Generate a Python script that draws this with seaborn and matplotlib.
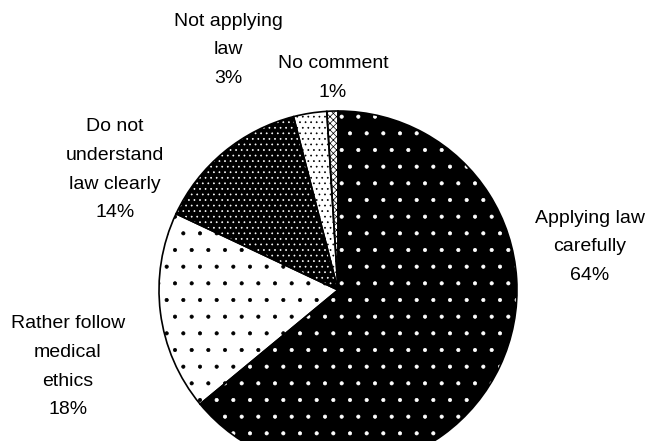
import seaborn as sns
import numpy as np
import matplotlib.pyplot as plt

# answers and shares (percent)
answers = ['Applying law\ncarefully', 'Rather follow\nmedical\nethics',
           'Do not\nunderstand\nlaw clearly', 'Not applying\nlaw', 'No comment']
shares = [64, 18, 14, 3, 1]

# black / white fills with dotted hatches, like the original print-style chart
faces = ['black', 'white', 'black', 'white', 'white']
dots = ['white', 'black', 'white', 'black', 'black']
hatches = ['.', '.', '...', '...', 'xxxxx']

# where the labels sit (figure fraction)
label_pos = [(0.879, 0.440), (0.101, 0.168), (0.171, 0.615), (0.341, 0.887), (0.496, 0.823)]

sns.set_theme(style='white')
plt.rcParams['font.family'] = ['Liberation Sans', 'DejaVu Sans']
plt.rcParams['hatch.linewidth'] = 0.5

W, H = 671, 441
fig = plt.figure(figsize=(W / 100, H / 100), dpi=100)
ax = fig.add_axes([0, 0, 1, 1])

# pie center and radius in pixels
cx, cy, r = 338, 441 - 290, 179

wedges, _ = ax.pie(shares, startangle=90, counterclock=False,
                   colors=faces, wedgeprops=dict(linewidth=0))
for w, ec, h in zip(wedges, dots, hatches):
    w.set_edgecolor(ec)
    w.set_hatch(h)
    w.set_linewidth(0)

ax.pie(shares, startangle=90, counterclock=False,
       wedgeprops=dict(fill=False, edgecolor='black', linewidth=1.2))

ax.set_xlim(-cx / r, (W - cx) / r)
ax.set_ylim(-cy / r, (H - cy) / r)
ax.set_aspect('equal', adjustable='box')
ax.axis('off')

for txt, val, (x, y) in zip(answers, shares, label_pos):
    fig.text(x, y, f'{txt}\n{val}%', ha='center', va='center',
             fontsize=14, linespacing=1.9, color='black')

fig.savefig('out.png', dpi=100)
